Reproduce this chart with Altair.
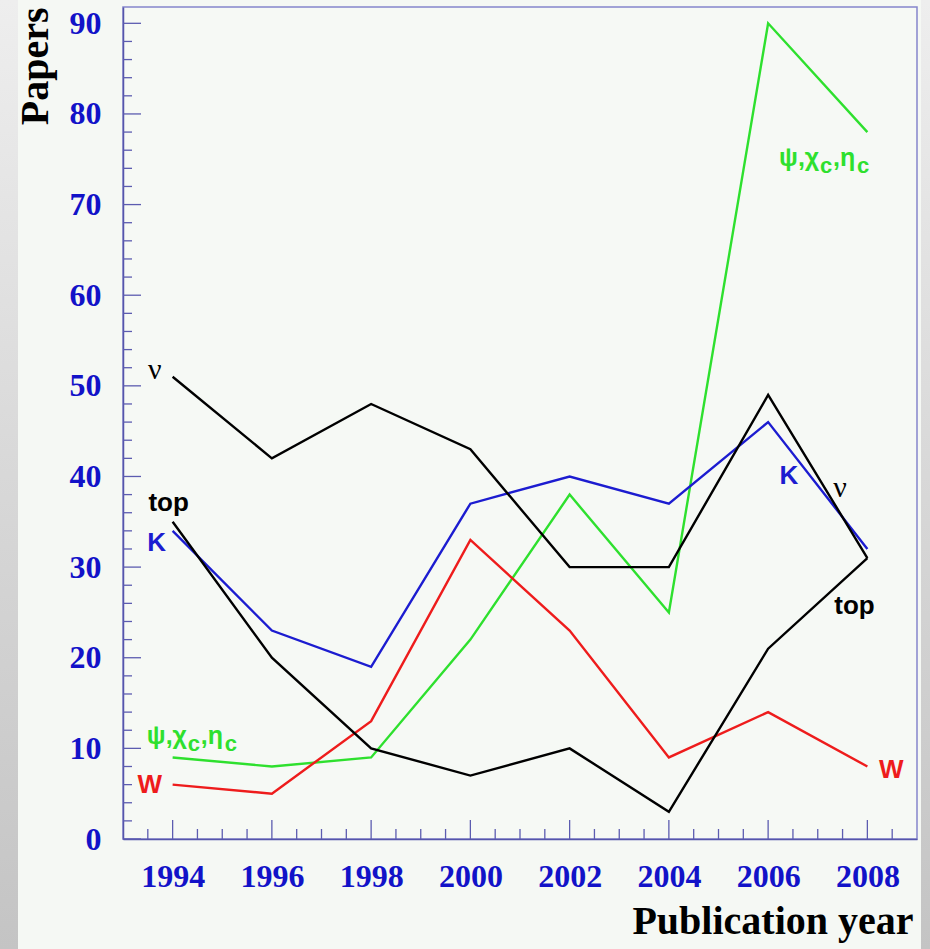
import altair as alt
import numpy as np
import pandas as pd

# Papers per publication year, by topic
years = [1994, 1996, 1998, 2000, 2002, 2004, 2006, 2008]
charmonium = [9, 8, 9, 22, 38, 25, 90, 78]
w_boson = [6, 5, 13, 33, 23, 9, 14, 8]
kaon = [34, 23, 19, 37, 40, 37, 46, 32]
neutrino = [51, 42, 48, 43, 30, 30, 49, 31]
top_quark = [35, 20, 10, 7, 10, 3, 21, 31]

series_names = ["charmonium", "W", "K", "nu", "top"]
series_values = [charmonium, w_boson, kaon, neutrino, top_quark]
series_colors = ["#2ee02e", "#ee1c1c", "#1c1cd0", "#000000", "#000000"]

W, H = 794, 832
X_DOMAIN = [1993, 2009]
Y_DOMAIN = [0, 91.8]

rows = []
for name, vals in zip(series_names, series_values):
    for yr, v in zip(years, vals):
        rows.append({"year": yr, "papers": v, "series": name})
df = pd.DataFrame(rows)

xs = alt.Scale(domain=X_DOMAIN, nice=False, zero=False)
ys = alt.Scale(domain=Y_DOMAIN, nice=False)
color_scale = alt.Scale(domain=series_names, range=series_colors)

lines = alt.Chart(df).mark_line(strokeWidth=2.4).encode(
    x=alt.X("year:Q", scale=xs,
            axis=alt.Axis(values=years, format="d", title="Publication year",
                          tickSize=0, labelPadding=22, grid=False)),
    y=alt.Y("papers:Q", scale=ys,
            axis=alt.Axis(values=list(range(0, 91, 10)), title="Papers",
                          tickSize=0, labelPadding=22, grid=False)),
    color=alt.Color("series:N", scale=color_scale, legend=None),
    detail="series:N",
)

# inward tick marks along the bottom and left edges
tick_color = "#5c5cb0"
x_major = pd.DataFrame({"t": np.arange(1994, 2009, 2)})
x_minor = pd.DataFrame({"t": [t for t in np.arange(1993.5, 2009, 0.5) if t % 2 != 0]})
y_major = pd.DataFrame({"t": np.arange(0, 91, 10)})
y_minor = pd.DataFrame({"t": [t for t in np.arange(0, 92, 2) if t % 10 != 0]})

xt_major = alt.Chart(x_major).mark_rule(color=tick_color, strokeWidth=1.3).encode(
    x=alt.X("t:Q", scale=xs), y=alt.value(H), y2=alt.value(H - 19))
xt_minor = alt.Chart(x_minor).mark_rule(color=tick_color, strokeWidth=1.3).encode(
    x=alt.X("t:Q", scale=xs), y=alt.value(H), y2=alt.value(H - 10))
yt_major = alt.Chart(y_major).mark_rule(color=tick_color, strokeWidth=1.3).encode(
    y=alt.Y("t:Q", scale=ys), x=alt.value(0), x2=alt.value(18))
yt_minor = alt.Chart(y_minor).mark_rule(color=tick_color, strokeWidth=1.3).encode(
    y=alt.Y("t:Q", scale=ys), x=alt.value(0), x2=alt.value(9))

# grey side bands framing the page
band_fill = alt.LinearGradient(
    gradient="linear", x1=0, x2=0, y1=0, y2=1,
    stops=[alt.GradientStop(color="#eeeeee", offset=0),
           alt.GradientStop(color="#d8d8d8", offset=0.5),
           alt.GradientStop(color="#c4c4c4", offset=1)],
)
one = pd.DataFrame({"k": [0]})
left_band = alt.Chart(one).mark_rect(color=band_fill).encode(
    x=alt.value(-123), x2=alt.value(-105), y=alt.value(-7), y2=alt.value(H + 110))
right_band = alt.Chart(one).mark_rect(color=band_fill).encode(
    x=alt.value(W + 4), x2=alt.value(W + 13), y=alt.value(-7), y2=alt.value(H + 110))

# series labels
sans_labels = pd.DataFrame({
    "year": [1993.92, 1993.68, 1993.54, 2006.42, 2007.74, 2008.48],
    "papers": [37.1, 32.7, 6.0, 40.1, 25.7, 7.6],
    "text": ["top", "K", "W", "K", "top", "W"],
    "series": ["top", "K", "W", "K", "top", "W"],
})
nu_labels = pd.DataFrame({
    "year": [1993.64, 2007.45],
    "papers": [51.8, 38.7],
    "text": ["ν", "ν"],
})
psi_anchor = pd.DataFrame({"year": [1993.48, 2006.22], "papers": [10.5, 74.3]})

sans_txt = alt.Chart(sans_labels).mark_text(
    font="Liberation Sans", fontWeight="bold", fontSize=26, align="center", baseline="middle"
).encode(
    x=alt.X("year:Q", scale=xs), y=alt.Y("papers:Q", scale=ys), text="text:N",
    color=alt.Color("series:N", scale=color_scale, legend=None),
)
nu_txt = alt.Chart(nu_labels).mark_text(
    font="Liberation Serif", fontSize=30, align="center", baseline="middle", color="#000000"
).encode(x=alt.X("year:Q", scale=xs), y=alt.Y("papers:Q", scale=ys), text="text:N")

green = "#2ee02e"
psi_parts = []
for txt, dx, dy, size in [("ψ,χ", 0, 0, 25), ("c", 41, 7, 22), (",η", 54, 0, 25), ("c", 78, 7, 22)]:
    psi_parts.append(
        alt.Chart(psi_anchor).mark_text(
            text=txt, font="Liberation Sans", fontWeight="bold", fontSize=size,
            align="left", baseline="alphabetic", dx=dx, dy=dy, color=green
        ).encode(x=alt.X("year:Q", scale=xs), y=alt.Y("papers:Q", scale=ys))
    )

chart = alt.layer(
    left_band, right_band, xt_minor, xt_major, yt_minor, yt_major, lines,
    sans_txt, nu_txt, *psi_parts
).properties(
    width=W, height=H,
    background="#f5f8f4",
    padding={"left": 123, "top": 7, "right": 13, "bottom": 110},
    autosize=alt.AutoSizeParams(type="none"),
).configure_view(
    stroke="#8585cc", strokeWidth=1.5, fill="#f6f9f5"
).configure_axis(
    domainColor="#5555aa", domainWidth=1.5,
    labelFont="Liberation Serif", labelFontWeight="bold", labelFontSize=32,
    labelColor="#1212c8",
    titleFont="Liberation Serif", titleFontWeight="bold", titleFontSize=40,
    titleColor="#000000",
).configure_axisX(
    titleAnchor="end", titleAlign="right", titleBaseline="alphabetic",
    titleX=W - 4, titleY=94,
).configure_axisY(
    titleAngle=-90, titleAlign="right", titleBaseline="alphabetic",
    titleX=-76, titleY=0, labelBaseline="middle",
)

chart.save("out.html", embed_options={"renderer": "svg", "actions": False})
